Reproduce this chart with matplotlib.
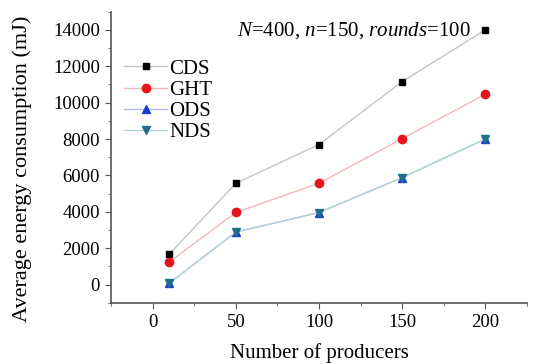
import matplotlib
matplotlib.use("Agg")
import matplotlib.pyplot as plt
from matplotlib.ticker import MultipleLocator

plt.rcParams['font.family'] = ['Liberation Serif', 'DejaVu Serif']
plt.rcParams['mathtext.fontset'] = 'custom'
plt.rcParams['mathtext.rm'] = 'Liberation Serif'
plt.rcParams['mathtext.it'] = 'Liberation Serif:italic'

producers = [10, 50, 100, 150, 200]
cds = [1680, 5570, 7700, 11150, 14000]
ght = [1240, 3970, 5570, 8020, 10460]
ods = [80, 2890, 3960, 5880, 8000]
nds = [80, 2890, 3960, 5880, 8000]

fig = plt.figure(figsize=(5.37, 3.64), dpi=100)
ax = fig.add_axes([0.207, 0.168, 0.774, 0.80])

ax.plot(producers, cds, color='#c4c4c4', lw=1, marker='s', ms=5, mfc='black', mec='black', label='CDS')
ax.plot(producers, ght, color='#f2b8b8', lw=1, marker='o', ms=6, mfc='#e8141c', mec='#e8141c', label='GHT')
ax.plot(producers, ods, color='#b8b8f0', lw=1, marker='^', ms=6, mfc='#1a3fd0', mec='#1a3fd0', label='ODS')
ax.plot(producers, nds, color='#b4d4d4', lw=1, marker='v', ms=6, mfc='#1f6e8a', mec='#1f6e8a', label='NDS')

ax.set_xlim(-25, 225)
ax.set_ylim(-1000, 15000)
ax.xaxis.set_major_locator(MultipleLocator(50))
ax.xaxis.set_minor_locator(MultipleLocator(25))
ax.yaxis.set_major_locator(MultipleLocator(2000))
ax.yaxis.set_minor_locator(MultipleLocator(1000))
ax.set_yticks(range(0, 14001, 2000))
ax.tick_params(which='both', direction='out', colors='#555555', labelcolor='black', labelsize=13.5)
ax.tick_params(which='major', length=4, pad=4)
ax.tick_params(which='minor', length=2.5)
for s in ['top', 'right']:
    ax.spines[s].set_visible(False)
for s in ['left', 'bottom']:
    ax.spines[s].set_color('#555555')
    ax.spines[s].set_linewidth(1.2)

ax.set_xlabel('Number of producers', fontsize=15, labelpad=9)
ax.set_ylabel('Average energy consumption (mJ)', fontsize=16)
ax.yaxis.set_label_coords(-0.19, 0.46)

ax.text(0.585, 0.935, r'$N$=400, $n$=150, $rounds$=100', transform=ax.transAxes,
        ha='center', va='center', fontsize=15)

ax.legend(loc='upper left', bbox_to_anchor=(0.0, 0.88), frameon=False, fontsize=15,
          handlelength=2.1, handletextpad=0.1, labelspacing=0.08, borderaxespad=0.2)

fig.savefig('out.png', dpi=100)
